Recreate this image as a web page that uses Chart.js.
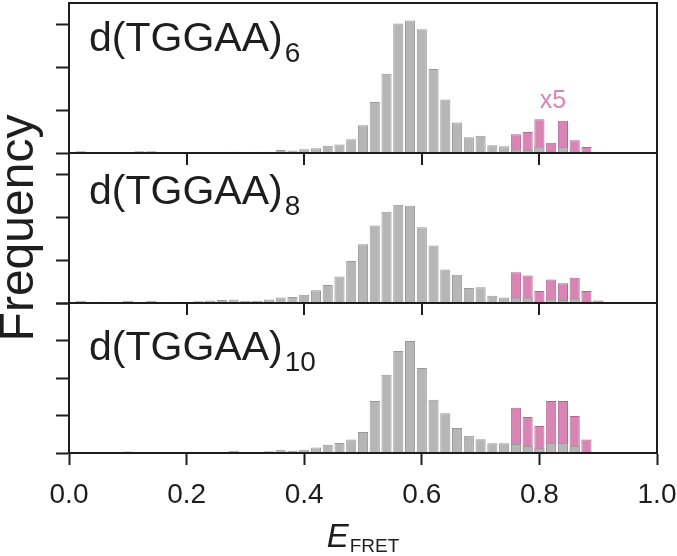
<!DOCTYPE html>
<html>
<head>
<meta charset="utf-8">
<script src="https://cdn.jsdelivr.net/npm/chart.js@4"></script>
<style>
  html, body { margin: 0; padding: 0; background: #fff; }
</style>
</head>
<body>
<canvas id="grafico" width="677" height="556"></canvas>
<script>
// centros de los bins de E_FRET (ancho 0.02)
const efret = [0.00, 0.02, 0.04, 0.06, 0.08, 0.10, 0.12, 0.14, 0.16, 0.18,
               0.20, 0.22, 0.24, 0.26, 0.28, 0.30, 0.32, 0.34, 0.36, 0.38,
               0.40, 0.42, 0.44, 0.46, 0.48, 0.50, 0.52, 0.54, 0.56, 0.58,
               0.60, 0.62, 0.64, 0.66, 0.68, 0.70, 0.72, 0.74, 0.76, 0.78,
               0.80, 0.82, 0.84, 0.86, 0.88, 0.90];

// frecuencias (1 = una marca del eje y)
const gris6 = [0, 0.04, 0, 0.01, 0.02, 0, 0.04, 0.04, 0, 0,
               0, 0.01, 0.01, 0, 0.03, 0.02, 0.03, 0.03, 0.07, 0.06,
               0.09, 0.11, 0.17, 0.20, 0.32, 0.65, 1.19, 1.85, 3.02, 3.09,
               2.89, 1.96, 1.25, 0.71, 0.37, 0.40, 0.18, 0.16, 0.08, 0.07,
               0.15, 0.04, 0.14, 0.05, 0.02, 0.01];
const gris8 = [0, 0.05, 0, 0.03, 0.03, 0.05, 0, 0.05, 0, 0.03,
               0.03, 0.04, 0.06, 0.07, 0.08, 0.05, 0.05, 0.08, 0.13, 0.14,
               0.19, 0.30, 0.42, 0.62, 0.98, 1.37, 1.81, 2.13, 2.29, 2.27,
               1.77, 1.34, 0.78, 0.66, 0.35, 0.37, 0.17, 0.13, 0.13, 0.13,
               0.05, 0.10, 0.07, 0.11, 0.04, 0.02];
const gris10 = [0, 0, 0, 0, 0, 0.04, 0, 0, 0.03, 0.03,
                0, 0, 0.03, 0.03, 0.06, 0, 0.03, 0.05, 0.09, 0.06,
                0.09, 0.15, 0.22, 0.27, 0.36, 0.56, 1.39, 2.09, 2.72, 2.99,
                2.27, 1.42, 1.06, 0.67, 0.46, 0.37, 0.26, 0.26, 0.24, 0.19,
                0.13, 0.27, 0.27, 0.19, 0.05, 0.02];

// zona ampliada x5
const efretRosa = [0.76, 0.78, 0.80, 0.82, 0.84, 0.86, 0.88, 0.90];
const rosa6 = [0.44, 0.49, 0.79, 0.24, 0.75, 0.30, 0.14, 0.03];
const rosa8 = [0.72, 0.64, 0.28, 0.55, 0.46, 0.59, 0.28, 0.06];
const rosa10 = [1.21, 0.96, 0.72, 1.39, 1.39, 0.99, 0.36, 0];

const nombres = ['d(TGGAA)', 'd(TGGAA)', 'd(TGGAA)'];
const subindices = ['6', '8', '10'];
const ejesY = ['y1', 'y2', 'y3'];
const maximosY = [3.5, 3.5, 4];

const FUENTE = "'Liberation Sans', Arial, Helvetica, sans-serif";
const GRIS = '#b6b6b6', GRIS_BORDE = '#999999';
const ROSA = '#d884b4', ROSA_BORDE = '#b0668f';
const NEGRO = '#1e1e1e';

function puntos(xs, ys) {
    return xs.map((x, i) => ({ x: x, y: ys[i] }));
}

const grises = [gris6, gris8, gris10];
const rosas = [rosa6, rosa8, rosa10];

const datasets = [];
ejesY.forEach((id, k) => {
    datasets.push({
        label: nombres[k] + subindices[k],
        data: puntos(efret, grises[k]),
        yAxisID: id,
        backgroundColor: GRIS,
        borderColor: GRIS_BORDE,
        borderWidth: 1,
        order: 0
    });
    datasets.push({
        label: nombres[k] + subindices[k] + ' x5',
        data: puntos(efretRosa, rosas[k]),
        yAxisID: id,
        backgroundColor: ROSA,
        borderColor: ROSA_BORDE,
        borderWidth: 1,
        order: 1
    });
});

function ejeY(k) {
    return {
        type: 'linear',
        position: 'left',
        stack: 'paneles',
        stackWeight: 1,
        weight: 3 - k,
        min: 0,
        max: maximosY[k],
        afterFit: scale => { scale.width = 69; },
        ticks: { display: false, stepSize: 1, includeBounds: k === 2 },
        grid: { display: true, drawOnChartArea: false, drawTicks: true, tickLength: 13, tickWidth: 2, tickColor: NEGRO },
        border: { display: true, color: NEGRO, width: 2 },
        title: {
            display: k === 1,
            text: 'Frequency',
            color: NEGRO,
            padding: 0,
            font: { size: 48, lineHeight: 0.84, family: FUENTE }
        }
    };
}

// marcos de los paneles, marcas internas y textos
const decoracion = {
    id: 'decoracion',
    afterDraw(chart) {
        const ctx = chart.ctx;
        const area = chart.chartArea;
        const ejeX = chart.scales.x;
        const bajadas = [48, 51, 57];
        ctx.save();
        ctx.strokeStyle = NEGRO;
        ctx.lineWidth = 2;
        ejesY.forEach((id, k) => {
            const s = chart.scales[id];
            ctx.strokeRect(area.left, s.top, area.right - area.left, s.bottom - s.top);
            if (k > 0) {
                ejeX.ticks.forEach(t => {
                    if (t.value <= 0.001 || t.value >= 0.999) return;
                    const px = Math.round(ejeX.getPixelForValue(t.value));
                    ctx.beginPath();
                    ctx.moveTo(px, s.top);
                    ctx.lineTo(px, s.top + 12);
                    ctx.stroke();
                });
            }
            const base = s.top + bajadas[k];
            ctx.fillStyle = NEGRO;
            ctx.textAlign = 'left';
            ctx.textBaseline = 'alphabetic';
            ctx.font = '41px ' + FUENTE;
            ctx.fillText(nombres[k], area.left + 20, base);
            const w = ctx.measureText(nombres[k]).width;
            ctx.font = '28px ' + FUENTE;
            ctx.fillText(subindices[k], area.left + 20 + w + 2, base + 11);
        });

        // etiqueta x5
        const y1 = chart.scales.y1;
        ctx.fillStyle = ROSA;
        ctx.textAlign = 'center';
        ctx.font = '25px ' + FUENTE;
        ctx.fillText('x5', ejeX.getPixelForValue(0.823), y1.getPixelForValue(1.05));

        // titulo del eje x: E subíndice FRET
        ctx.fillStyle = NEGRO;
        ctx.textAlign = 'left';
        ctx.font = 'italic 33px ' + FUENTE;
        const wE = ctx.measureText('E').width;
        ctx.font = '19px ' + FUENTE;
        const wF = ctx.measureText('FRET').width;
        const inicio = (area.left + area.right) / 2 - (wE + 1 + wF) / 2;
        ctx.font = 'italic 33px ' + FUENTE;
        ctx.fillText('E', inicio, chart.height - 9);
        ctx.font = '19px ' + FUENTE;
        ctx.fillText('FRET', inicio + wE + 1, chart.height - 4);
        ctx.restore();
    }
};

Chart.defaults.font.family = FUENTE;
Chart.defaults.color = NEGRO;

const ctx = document.getElementById('grafico').getContext('2d');
const miGrafico = new Chart(ctx, {
    type: 'bar',
    data: { datasets: datasets },
    options: {
        responsive: false,
        animation: false,
        events: [],
        datasets: {
            bar: { grouped: false, barPercentage: 0.86, categoryPercentage: 1 }
        },
        layout: { padding: { top: 3, right: 20, left: 0, bottom: 0 } },
        plugins: {
            legend: { display: false },
            tooltip: { enabled: false }
        },
        scales: {
            x: {
                type: 'linear',
                position: 'bottom',
                min: 0,
                max: 1,
                offset: false,
                afterFit: scale => {
                    scale.height = 103;
                    scale.paddingLeft = 0;
                    scale.paddingRight = 0;
                },
                ticks: {
                    stepSize: 0.2,
                    maxRotation: 0,
                    padding: 13,
                    font: { size: 28 },
                    color: NEGRO,
                    callback: v => Number(v).toFixed(1)
                },
                grid: { display: true, offset: false, drawOnChartArea: false, drawTicks: true, tickLength: 12, tickWidth: 2, tickColor: NEGRO },
                border: { display: true, color: NEGRO, width: 2 }
            },
            y1: ejeY(0),
            y2: ejeY(1),
            y3: ejeY(2)
        }
    },
    plugins: [decoracion]
});
</script>
</body>
</html>
